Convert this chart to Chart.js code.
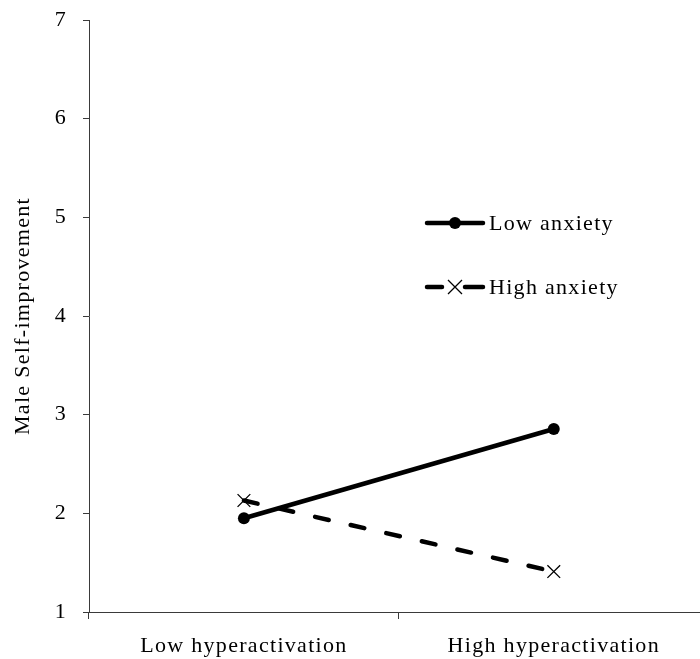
<!DOCTYPE html>
<html>
<head>
<meta charset="utf-8">
<script src="https://cdn.jsdelivr.net/npm/chart.js@4/dist/chart.umd.min.js"></script>
<style>
  html, body { margin: 0; padding: 0; background: #fff; overflow: hidden; }
  /* the plot runs a little past the right edge of the page */
  #wrap { width: 719px; height: 659px; }
</style>
</head>
<body>
<div id="wrap"><canvas id="c"></canvas></div>
<script>
// Interaction plot: hyperactivation x anxiety on male self-improvement
const categories = ["Low hyperactivation", "High hyperactivation"];
const lowAnxiety = [1.95, 2.855];
const highAnxiety = [2.13, 1.41];
const yTicks = [1, 2, 3, 4, 5, 6, 7];

const SERIF = "'Liberation Serif', 'Times New Roman', serif";
const INK = "#000";
const AXIS = "#3a3a3a";

// Word-style text is a bit wider than the canvas default
const spacingPlugin = {
  id: "spacing",
  beforeDraw(chart) { chart.ctx.letterSpacing = "1.3px"; },
};

// Legend drawn inside the plot: line sample + marker + label
const legendPlugin = {
  id: "insideLegend",
  afterDraw(chart) {
    const { ctx, chartArea: area } = chart;
    const x0 = area.left + 338, x1 = area.left + 394, xm = (x0 + x1) / 2;
    const rows = [
      { y: area.top + 203, label: chart.data.datasets[0].label, dashed: false },
      { y: area.top + 267, label: chart.data.datasets[1].label, dashed: true },
    ];
    ctx.save();
    ctx.strokeStyle = INK;
    ctx.fillStyle = INK;
    rows.forEach((r) => {
      ctx.lineWidth = 4.5;
      ctx.lineCap = "round";
      ctx.beginPath();
      if (r.dashed) {
        ctx.moveTo(x0, r.y); ctx.lineTo(xm - 13, r.y);
        ctx.moveTo(xm + 10, r.y); ctx.lineTo(x1, r.y);
      } else {
        ctx.moveTo(x0, r.y); ctx.lineTo(x1, r.y);
      }
      ctx.stroke();
      if (r.dashed) {
        ctx.lineWidth = 1.3;
        ctx.lineCap = "butt";
        const s = 7;
        ctx.beginPath();
        ctx.moveTo(xm - s, r.y - s); ctx.lineTo(xm + s, r.y + s);
        ctx.moveTo(xm - s, r.y + s); ctx.lineTo(xm + s, r.y - s);
        ctx.stroke();
      } else {
        ctx.beginPath();
        ctx.arc(xm, r.y, 6, 0, Math.PI * 2);
        ctx.fill();
      }
      ctx.font = "22px " + SERIF;
      ctx.textAlign = "left";
      ctx.textBaseline = "middle";
      ctx.fillText(r.label, x1 + 6, r.y + 1);
    });
    ctx.restore();
  },
};

new Chart(document.getElementById("c"), {
  type: "line",
  data: {
    labels: categories,
    datasets: [
      {
        label: "Low anxiety",
        data: lowAnxiety,
        borderColor: INK,
        backgroundColor: INK,
        borderWidth: 4.5,
        pointStyle: "circle",
        pointRadius: 6,
        pointBorderWidth: 0,
        tension: 0,
      },
      {
        label: "High anxiety",
        data: highAnxiety,
        borderColor: INK,
        backgroundColor: INK,
        borderWidth: 4.5,
        borderDash: [14, 22.5],
        borderCapStyle: "round",
        pointStyle: "crossRot",
        pointRadius: 9,
        pointBorderWidth: 1.3,
        tension: 0,
      },
    ],
  },
  options: {
    responsive: true,
    maintainAspectRatio: false,
    animation: false,
    layout: { padding: { top: 20, right: 0, left: 0, bottom: 0 } },
    plugins: {
      legend: { display: false },
      tooltip: { enabled: false },
    },
    scales: {
      x: {
        type: "category",
        offset: true,
        afterFit(scale) {
          scale.height = 47;
          scale.paddingLeft = 0;
          scale.paddingRight = 0;
        },
        grid: {
          offset: true,
          drawOnChartArea: false,
          drawTicks: true,
          tickLength: 7,
          color: AXIS,
        },
        border: { display: true, color: AXIS, width: 1 },
        ticks: {
          color: INK,
          padding: 14,
          maxRotation: 0,
          font: { family: SERIF, size: 22 },
        },
      },
      y: {
        min: 1,
        max: 7,
        afterFit(scale) {
          scale.width = 89;
          scale.paddingTop = 0;
          scale.paddingBottom = 0;
        },
        afterBuildTicks(scale) { scale.ticks = yTicks.map((v) => ({ value: v })); },
        grid: {
          drawOnChartArea: false,
          drawTicks: true,
          tickLength: 6,
          color: AXIS,
        },
        border: { display: true, color: AXIS, width: 1 },
        ticks: {
          color: INK,
          padding: 16,
          font: { family: SERIF, size: 22 },
        },
        title: {
          display: true,
          text: "Male Self-improvement",
          color: INK,
          padding: { top: 10, bottom: 0 },
          font: { family: SERIF, size: 22 },
        },
      },
    },
  },
  plugins: [spacingPlugin, legendPlugin],
});
</script>
</body>
</html>
